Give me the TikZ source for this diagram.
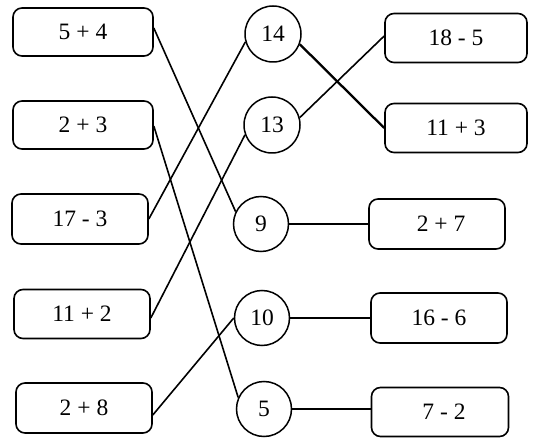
\documentclass[tikz,border=0pt]{standalone}
\usepackage{fontspec}
\setmainfont{Liberation Serif}
\begin{document}
\begin{tikzpicture}[x=1pt,y=-1pt,
  box/.style={draw,line width=1.6pt,rounded corners=9pt,minimum width=140pt,minimum height=48pt,inner sep=0pt,font=\fontsize{23.5}{26}\selectfont},
  num/.style={draw,circle,line width=1.5pt,minimum size=55pt,inner sep=0pt,font=\fontsize{23.5}{26}\selectfont},
  link/.style={line width=1.6pt},
  thick link/.style={line width=2.3pt}]
\useasboundingbox (0,0) rectangle (547,441);
% left boxes
\node[box] (b54) at (83,32) {5 + 4};
\node[box] (b23) at (83,125) {2 + 3};
\node[box,minimum width=136pt,minimum height=50pt] (b173) at (80,219) {17 - 3};
\node[box,minimum width=136pt,minimum height=49pt] (b112) at (82,314) {11 + 2};
\node[box,minimum width=136pt,minimum height=50pt] (b28) at (84,408) {2 + 8};
% circles
\node[num,minimum size=56pt] (c14) at (273,34) {14};
\node[num,minimum size=56pt] (c13) at (272,125) {13};
\node[num] (c9) at (261,224) {9};
\node[num] (c10) at (262,318) {10};
\node[num] (c5) at (264,409) {5};
% right boxes
\node[box,minimum width=142pt,minimum height=49pt] (r185) at (456,38) {18 - 5};
\node[box,minimum width=142pt,minimum height=49pt] (r113) at (456,128) {11 + 3};
\node[box,minimum width=136pt,minimum height=50pt] (r27) at (437,224) {\hspace{8pt}2 + 7};
\node[box,minimum width=136pt,minimum height=50pt] (r166) at (439,318) {16 - 6};
\node[box,minimum width=137pt,minimum height=49pt] (r72) at (440,412) {\hspace{8pt}7 - 2};
% connectors
\draw[link] ([yshift=4pt]b54.east) -- (c9.154);
\draw[link] ([yshift=-1pt]b23.east) -- (c5.156);
\draw[link] (b173.east) -- (c14.196);
\draw[link] ([yshift=-4pt]b112.east) -- (c13.200);
\draw[link] ([yshift=-7pt]b28.east) -- (c10.west);
\draw[thick link] (c14.-21) -- (r113.west);
\draw[link] (c13.15) -- ([yshift=2pt]r185.west);
\draw[link] (c9.east) -- (r27.west);
\draw[link] (c10.east) -- (r166.west);
\draw[link] (c5.east) -- ([yshift=3pt]r72.west);
\end{tikzpicture}
\end{document}
